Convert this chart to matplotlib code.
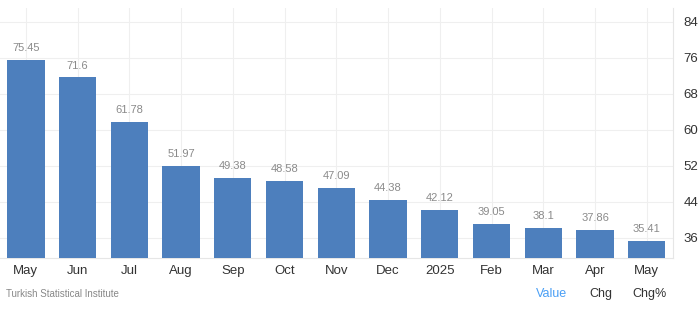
import matplotlib
matplotlib.use("Agg")
import matplotlib.pyplot as plt

months = ["May", "Jun", "Jul", "Aug", "Sep", "Oct", "Nov", "Dec", "2025",
          "Feb", "Mar", "Apr", "May"]
values = [75.45, 71.6, 61.78, 51.97, 49.38, 48.58, 47.09, 44.38, 42.12,
          39.05, 38.1, 37.86, 35.41]
labels = ["75.45", "71.6", "61.78", "51.97", "49.38", "48.58", "47.09",
          "44.38", "42.12", "39.05", "38.1", "37.86", "35.41"]
yticks = [36, 44, 52, 60, 68, 76, 84]

plt.rcParams['font.family'] = ['Liberation Sans', 'DejaVu Sans']

fig = plt.figure(figsize=(7, 3.12), dpi=100)
ax = fig.add_axes([0.0, 0.174, 0.961, 0.80])

x = range(len(values))
ax.bar(x, values, width=0.72, color="#4d7fbd", zorder=3)
for i, (v, t) in enumerate(zip(values, labels)):
    ax.annotate(t, (i, v), xytext=(0, 5), textcoords="offset points",
                ha="center", va="bottom", fontsize=8, color="#8a8a8a")

ax.set_xlim(-0.5, len(values) - 0.5)
ax.set_ylim(31.6, 87)
ax.set_xticks(list(x))
ax.set_xticklabels(months, fontsize=9.5, color="#333333")
ax.set_yticks(yticks)
ax.yaxis.tick_right()
ax.tick_params(axis="y", labelsize=9.5, labelcolor="#333333", length=0, pad=8)
ax.tick_params(axis="x", length=0, pad=5)
ax.grid(True, color="#efefef", linewidth=0.8, zorder=0)

for s in ["top", "left"]:
    ax.spines[s].set_visible(False)
ax.spines["right"].set_color("#e6e6e6")
ax.spines["bottom"].set_color("#e6e6e6")

fig.text(0.008, 0.048, "Turkish Statistical Institute", fontsize=7, color="#888888")
fig.text(0.766, 0.048, "Value", fontsize=9, color="#4a9ff5")
fig.text(0.842, 0.048, "Chg", fontsize=9, color="#333333")
fig.text(0.903, 0.048, "Chg%", fontsize=9, color="#333333")

fig.savefig("out.png", dpi=100)
